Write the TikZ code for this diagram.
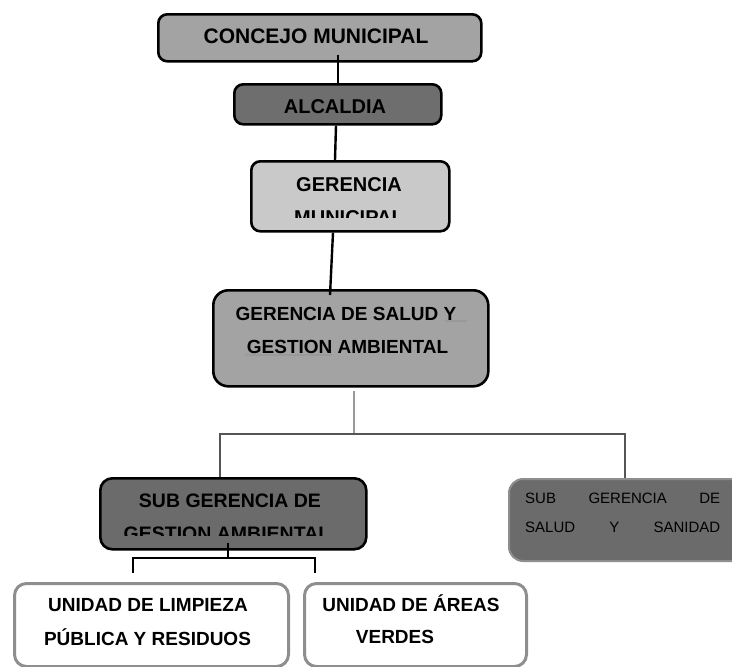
\documentclass[tikz,border=0pt]{standalone}
\usepackage{fontspec}
\setmainfont{Liberation Sans}
\definecolor{gA}{HTML}{A3A3A3}
\definecolor{gB}{HTML}{6E6E6E}
\definecolor{gC}{HTML}{C9C9C9}
\definecolor{gD}{HTML}{6B6B6B}
\definecolor{gEdge}{HTML}{8E8E8E}
\definecolor{gLine}{HTML}{555555}
\definecolor{gStub}{HTML}{9A9A9A}
\newcommand\orgfs[1]{\fontsize{#1}{#1}\selectfont\bfseries}
\begin{document}
\begin{tikzpicture}[x=1pt,y=-1pt,
  box/.style={draw=black, line width=2.6pt, rounded corners=9pt, anchor=north west, inner sep=0pt},
  wbox/.style={draw=gEdge, line width=3pt, rounded corners=12pt, fill=white, anchor=north west, inner sep=0pt},
  lbl/.style={inner sep=0pt, text height=14.3pt, text depth=0pt, font=\orgfs{20}},
  slbl/.style={inner sep=0pt, text height=10.7pt, text depth=0pt, font=\fontsize{15}{15}\selectfont, text=black},
  conn/.style={draw=black, line width=2.4pt},
  thin/.style={draw=gLine, line width=1.6pt}]
\useasboundingbox (0,0) rectangle (732,667);
\clip (0,0) rectangle (732,667);

% boxes
\node[box, fill=gA, minimum width=323pt, minimum height=47pt] (concejo) at (157,13) {};
\node[box, fill=gB, minimum width=207pt, minimum height=40pt] (alcaldia) at (233,83) {};
\node[box, fill=gC, minimum width=198pt, minimum height=70pt] (gerencia) at (250,160) {};
\node[box, fill=gA, minimum width=275pt, minimum height=96pt, rounded corners=15pt] (gds) at (212,289) {};
\node[box, fill=gD, minimum width=266pt, minimum height=71pt, rounded corners=12pt] (sgga) at (99,477) {};
\node[box, draw=gEdge, line width=2pt, fill=gD, minimum width=240pt, minimum height=82pt, rounded corners=14pt] (sgss) at (508,478) {};
\node[wbox, minimum width=274pt, minimum height=83pt] (limpieza) at (13,582) {};
\node[wbox, minimum width=222pt, minimum height=83pt] (areas) at (303,582) {};

% texts
\node[lbl, font=\orgfs{21}, text height=15pt] (tconcejo) at (316,36) {CONCEJO MUNICIPAL};
\node[lbl] (talcaldia) at (335,106) {ALCALDIA};
\node[lbl] (tgerencia) at (349,184.5) {GERENCIA};
\begin{scope}
  \clip (252,162) rectangle (446,217);
  \node[lbl] (tgerencia2) at (349,217.5) {MUNICIPAL};
\end{scope}
\node[lbl, font=\orgfs{19}, text height=13.6pt] (tgds1) at (346,313.5) {GERENCIA DE SALUD Y};
\node[lbl, font=\orgfs{19}, text height=13.6pt] (tgds2) at (347.5,346.5) {GESTION AMBIENTAL};
\draw[gStub, line width=1.2pt] (445,321) -- (467,321);
\draw[gStub, line width=1.2pt] (245,355) -- (332,355);
\node[lbl, font=\orgfs{19.5}] (tsgga1) at (230,500) {SUB GERENCIA DE};
\begin{scope}
  \clip (101,479) rectangle (363,535);
  \node[lbl, font=\orgfs{19.5}] (tsgga2) at (227,533) {GESTION AMBIENTAL};
\end{scope}
\node[slbl, anchor=west] (tsgss1) at (525,498) {\hbox to 195pt{SUB\hfill GERENCIA\hfill DE}};
\node[slbl, anchor=west] (tsgss2) at (525,527) {\hbox to 195pt{SALUD\hfill Y\hfill SANIDAD}};
\node[lbl, font=\orgfs{19}, text height=13.6pt] (tlimp1) at (148,605) {UNIDAD DE LIMPIEZA};
\node[lbl, font=\orgfs{19}, text height=13.6pt] (tlimp2) at (147.5,639) {PÚBLICA Y RESIDUOS};
\node[lbl, font=\orgfs{19}, text height=13.6pt] (tareas1) at (411,605) {UNIDAD DE ÁREAS};
\node[lbl, font=\orgfs{19}, text height=13.6pt] (tareas2) at (395,637) {VERDES};

% connectors
\draw[conn] ([yshift=8pt]concejo.south -| alcaldia.north) -- (alcaldia.north);
\draw[conn] (alcaldia.south -| 336,0) -- (gerencia.north -| 335,0);
\draw[conn] (gerencia.south -| 333,0) -- ([yshift=-6pt]gds.north -| 330,0);

\coordinate (hub) at (354,434);
\draw[gStub, line width=1.6pt] (gds.south -| 354,0) ++(0,3) -- (hub);
\draw[thin] (sgga.north -| 220,0) |- (hub) -| (sgss.north -| 625,0);

\coordinate (br) at (228,558);
\coordinate (dl) at (133,573);
\coordinate (dr) at (315,573);
\draw[conn] ([yshift=8pt]sgga.south -| br) -- (br);
\draw[conn] (dl) |- (br) -| (dr);
\end{tikzpicture}
\end{document}
